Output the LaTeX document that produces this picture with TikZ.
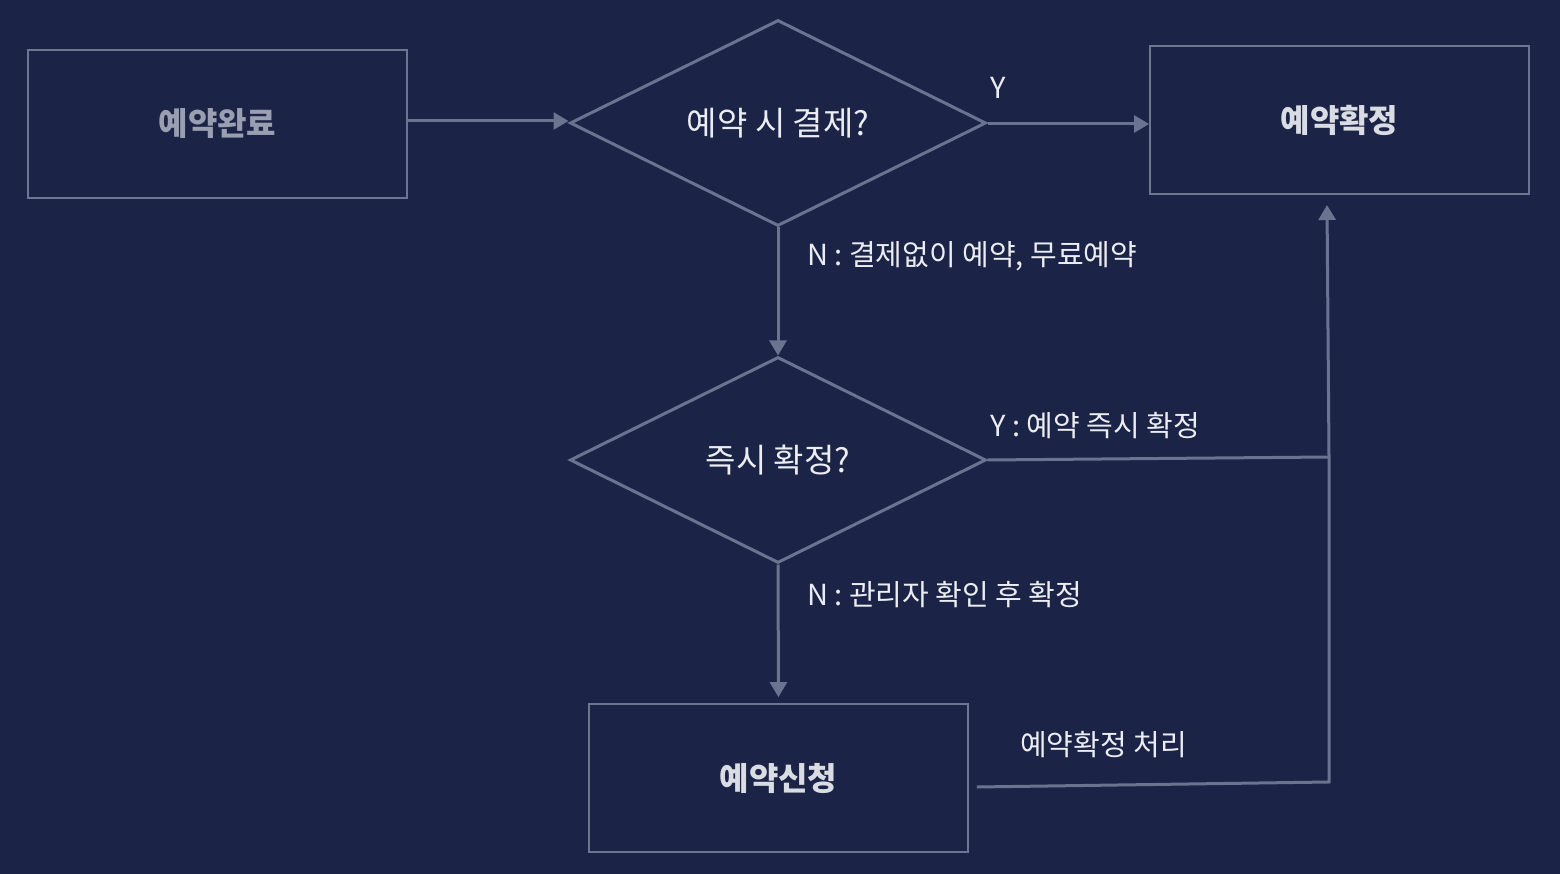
\documentclass[tikz,border=0pt]{standalone}
\usepackage{fontspec}
\setmainfont{Noto Sans CJK KR}
\usetikzlibrary{shapes.geometric,arrows.meta,calc}
\definecolor{bg}{HTML}{1B2447}
\definecolor{linec}{HTML}{6B7391}
\definecolor{boxc}{HTML}{6E7590}
\definecolor{txt}{HTML}{ECEDF2}
\definecolor{greytxt}{HTML}{9A9EB1}
\definecolor{boldtxt}{HTML}{DADCE4}
\tikzset{
  box/.style={draw=boxc,line width=1.8pt,minimum width=379pt,minimum height=148pt,inner sep=0pt,font=\fontsize{32}{36}\selectfont\bfseries,text=boldtxt},
  dec/.style={diamond,draw=linec,line width=3pt,minimum width=416pt,minimum height=206pt,inner sep=0pt},
  dectext/.style={inner sep=0pt,font=\fontsize{33}{38}\selectfont,text=txt},
  conn/.style={draw=linec,line width=3pt},
  arr/.style={conn,-{Triangle[length=15pt,width=17pt]}},
  lbl/.style={font=\fontsize{29}{34}\selectfont,text=txt,inner sep=0pt,anchor=west}
}
\begin{document}
\begin{tikzpicture}[x=1pt,y=-1pt]
\fill[bg] (0,0) rectangle (1560,874);
\useasboundingbox (0,0) rectangle (1560,874);
\node[box,text=greytxt] (done) at (217.5,124) {예약완료};
\node[dec] (d1) at (778,123) {};
\node[dectext] (d1t) at (d1.center) {예약 시 결제?};
\node[box] (conf) at (1339.5,120) {예약확정};
\node[dec] (d2) at (778,460) {};
\node[dectext] (d2t) at (d2.center) {즉시 확정?};
\node[box] (apply) at (778.5,778) {예약신청};
\coordinate (j) at (1329,457);
\coordinate (k) at (1329,782);
\coordinate (t) at (1327,205);
\draw[arr] ([yshift=3pt]done.east) -- ([yshift=3pt]done.east -| d1.west);
\draw[arr] ([yshift=-1pt]d1.east) -- ([yshift=-1pt]d1.east -| conf.west);
\draw[arr] (d1.south) -- (d2.north);
\draw[arr,shorten >=6pt] (d2.south) -- (apply.north);
\draw[conn] (d2.east) -- (j);
\draw[conn] ([shift={(8pt,-9pt)}]apply.east) -- (k) -- (j);
\draw[arr] (j) -- (t);
\node[lbl] (ly) at (990,88) {Y};
\node[lbl] (ln1) at (807,256) {N : 결제없이 예약, 무료예약};
\node[lbl] (ly2) at (990,426) {Y : 예약 즉시 확정};
\node[lbl] (ln2) at (807,595) {N : 관리자 확인 후 확정};
\node[lbl] (lp) at (1020,745) {예약확정 처리};
\end{tikzpicture}
\end{document}
